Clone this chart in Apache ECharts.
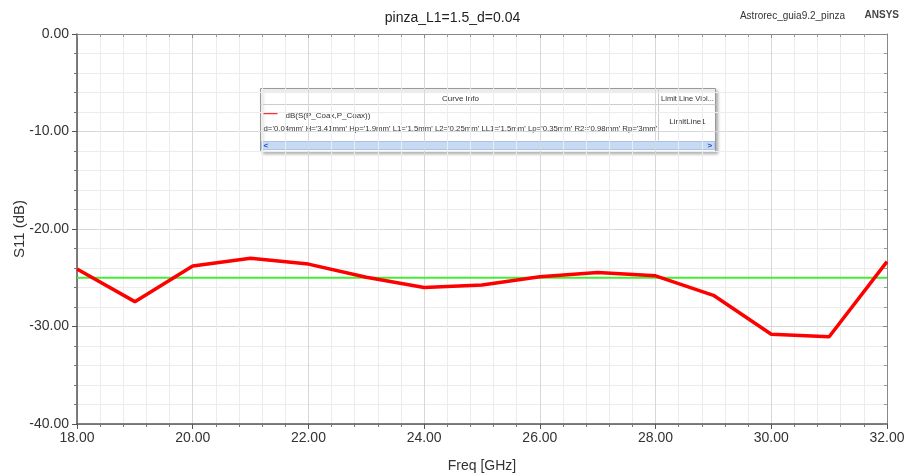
<!DOCTYPE html>
<html>
<head>
<meta charset="utf-8">
<script src="https://cdn.jsdelivr.net/npm/echarts@6/dist/echarts.min.js"></script>
<style>
html,body{margin:0;padding:0;background:#fff;}
#main{width:905px;height:475px;}
</style>
</head>
<body>
<div id="main"></div>
<script>
// frequencies (GHz) and S11 (dB)
var freq = [18, 19, 20, 21, 22, 23, 24, 25, 26, 27, 28, 29, 30, 31, 32];
var s11 = [-24.1, -27.45, -23.8, -23.0, -23.6, -24.95, -26.0, -25.75, -24.9, -24.45, -24.8, -26.8, -30.8, -31.05, -23.35];
var limitFreq = [18, 32];
var limitVal = [-25, -25];
var xTicks = ['18.00', '20.00', '22.00', '24.00', '26.00', '28.00', '30.00', '32.00'];
var yTicks = ['-40.00', '-30.00', '-20.00', '-10.00', '0.00'];

var curveData = [];
for (var i = 0; i < freq.length; i++) {
	curveData.push([freq[i], s11[i]]);
}
var limitData = [];
for (var j = 0; j < limitFreq.length; j++) {
	limitData.push([limitFreq[j], limitVal[j]]);
}

var font = 'Liberation Sans, Arial, sans-serif';
var chart = echarts.init(document.getElementById('main'));

var legendText = "d='0.04mm' H='3.41mm' Hp='1.9mm' L1='1.5mm' L2='0.25mm' LL1='1.5mm' Lp='0.35mm' R2='0.98mm' Rp='3mm'";

var option = {
	animation: false,
	backgroundColor: '#fff',
	title: {
		text: 'pinza_L1=1.5_d=0.04',
		left: 'center',
		top: 6,
		textStyle: {fontFamily: font, fontSize: 14, fontWeight: 'normal', color: '#222'}
	},
	grid: {left: 77, right: 18, top: 34, bottom: 51, containLabel: false, outerBoundsMode: 'none'},
	xAxis: [{
		type: 'value', min: 18, max: 32, interval: 2,
		name: 'Freq [GHz]', nameLocation: 'middle', nameGap: 35,
		nameTextStyle: {fontFamily: font, fontSize: 14, color: '#333'},
		axisLine: {show: true, onZero: false, lineStyle: {color: '#555', width: 1.5}},
		axisTick: {show: true, inside: false, length: 5, lineStyle: {color: '#555'}},
		minorTick: {show: true, splitNumber: 5, length: 3, lineStyle: {color: '#777'}},
		axisLabel: {fontFamily: font, fontSize: 14, color: '#333', margin: 7,
			formatter: function (v) { return xTicks[(v - 18) / 2]; }},
		splitLine: {show: true, lineStyle: {color: '#d8d8d8', width: 1}},
		minorSplitLine: {show: true, lineStyle: {color: '#ececec', width: 1}}
	}, {
		type: 'value', min: 18, max: 32, interval: 2, position: 'top',
		axisLine: {show: true, lineStyle: {color: '#888', width: 1}},
		axisTick: {show: true, inside: true, length: 4, lineStyle: {color: '#888'}},
		minorTick: {show: true, splitNumber: 5, length: 3, lineStyle: {color: '#999'}},
		axisLabel: {show: false},
		splitLine: {show: false}
	}],
	yAxis: [{
		type: 'value', min: -40, max: 0, interval: 10,
		name: 'S11 (dB)', nameLocation: 'middle', nameGap: 50, nameMoveOverlap: false,
		nameTextStyle: {fontFamily: font, fontSize: 15, color: '#333'},
		axisLine: {show: true, onZero: false, lineStyle: {color: '#555', width: 1.5}},
		axisTick: {show: true, length: 5, lineStyle: {color: '#555'}},
		minorTick: {show: true, splitNumber: 5, length: 3, lineStyle: {color: '#777'}},
		axisLabel: {fontFamily: font, fontSize: 14, color: '#333', margin: 8,
			formatter: function (v) { return yTicks[(v + 40) / 10]; }},
		splitLine: {show: true, lineStyle: {color: '#d8d8d8', width: 1}},
		minorSplitLine: {show: true, lineStyle: {color: '#ececec', width: 1}}
	}, {
		type: 'value', min: -40, max: 0, interval: 10, position: 'right',
		axisLine: {show: true, lineStyle: {color: '#888', width: 1}},
		axisTick: {show: true, inside: true, length: 4, lineStyle: {color: '#888'}},
		minorTick: {show: true, splitNumber: 5, length: 3, lineStyle: {color: '#999'}},
		axisLabel: {show: false},
		splitLine: {show: false}
	}],
	series: [{
		name: 'LimitLine1',
		type: 'line',
		data: limitData,
		showSymbol: false,
		lineStyle: {color: '#44ee33', width: 2},
		z: 3
	}, {
		name: 'dB(S(P_Coax,P_Coax))',
		type: 'line',
		data: curveData,
		showSymbol: false,
		lineStyle: {color: '#ff0000', width: 3.5},
		z: 4
	}],
	graphic: [{
		type: 'text', right: 60, top: 11,
		style: {text: 'Astrorec_guia9.2_pinza', fontFamily: font, fontSize: 10, fill: '#333'}
	}, {
		type: 'text', right: 6, top: 10,
		style: {text: 'ANSYS', fontFamily: font, fontSize: 10, fontWeight: 'bold', fill: '#444'}
	}, {
		type: 'group', left: 258, top: 86, z: 100,
		children: [
			{type: 'rect', shape: {x: 0, y: 0, width: 455, height: 63},
				style: {fill: '#fff', stroke: '#999', lineWidth: 1, shadowBlur: 3, shadowOffsetX: 2, shadowOffsetY: 2, shadowColor: 'rgba(0,0,0,0.3)'}},
			{type: 'line', shape: {x1: 0, y1: 16, x2: 455, y2: 16}, style: {stroke: '#ccc', lineWidth: 1}},
			{type: 'line', shape: {x1: 398, y1: 0, x2: 398, y2: 52}, style: {stroke: '#ccc', lineWidth: 1}},
			{type: 'text', x: 200, y: 10, style: {text: 'Curve Info', fontFamily: font, fontSize: 8, fill: '#333', align: 'center', verticalAlign: 'middle'}},
			{type: 'text', x: 427, y: 10, style: {text: 'Limit Line Viol...', fontFamily: font, fontSize: 7.5, fill: '#333', align: 'center', verticalAlign: 'middle'}},
			{type: 'line', shape: {x1: 3, y1: 25, x2: 17, y2: 25}, style: {stroke: '#ff3030', lineWidth: 1.5}},
			{type: 'text', x: 25, y: 27, style: {text: 'dB(S(P_Coax,P_Coax))', fontFamily: font, fontSize: 8, fill: '#333', verticalAlign: 'middle'}},
			{type: 'text', x: 3, y: 40, style: {text: legendText, fontFamily: font, fontSize: 7.8, fill: '#333', verticalAlign: 'middle'}},
			{type: 'text', x: 427, y: 33, style: {text: 'LimitLine1', fontFamily: font, fontSize: 8, fill: '#333', align: 'center', verticalAlign: 'middle'}},
			{type: 'rect', shape: {x: 1, y: 53, width: 453, height: 8}, style: {fill: '#c6daf3', stroke: '#aac4e6', lineWidth: 1}},
			{type: 'text', x: 3, y: 57, style: {text: '<', fontFamily: font, fontSize: 8, fontWeight: 'bold', fill: '#2050c0', verticalAlign: 'middle'}},
			{type: 'text', x: 447, y: 57, style: {text: '>', fontFamily: font, fontSize: 8, fontWeight: 'bold', fill: '#2050c0', verticalAlign: 'middle'}}
		]
	}]
};

chart.setOption(option);
</script>
</body>
</html>
